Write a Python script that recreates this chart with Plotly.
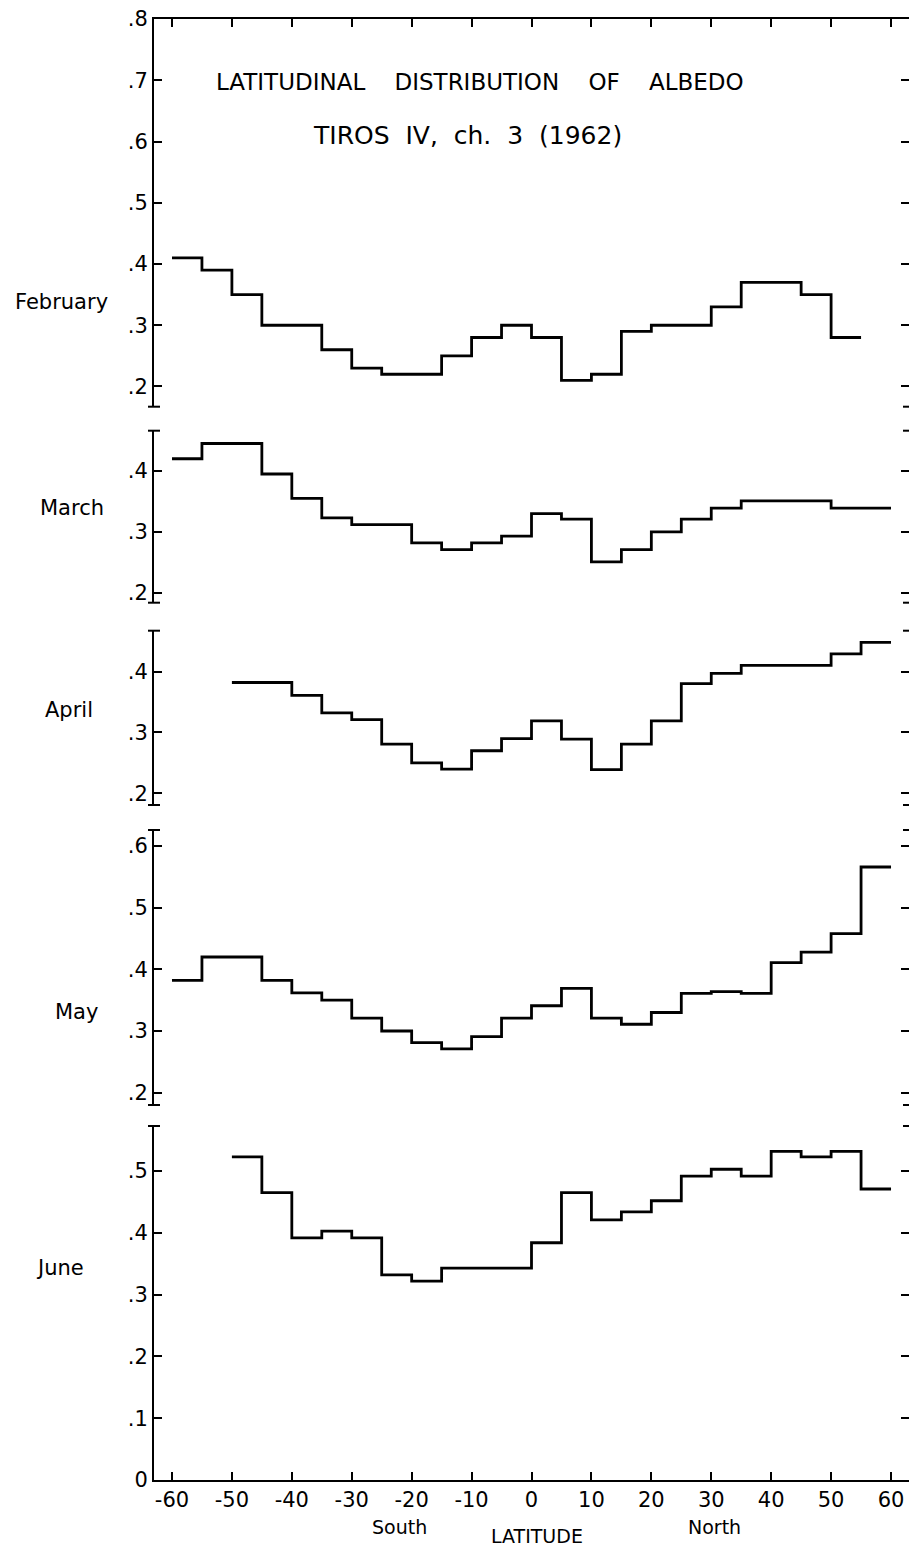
import plotly.graph_objects as go

# ---- data -------------------------------------------------------------
lat_edges = list(range(-60, 65, 5))          # 25 edges, 24 bins of 5 deg
months = ["February", "March", "April", "May", "June"]

feb = [0.41, 0.39, 0.35, 0.30, 0.30, 0.26, 0.23, 0.22, 0.22, 0.25, 0.28, 0.30,
       0.28, 0.21, 0.22, 0.29, 0.30, 0.30, 0.33, 0.37, 0.37, 0.35, 0.28, None]
mar = [0.42, 0.445, 0.445, 0.395, 0.355, 0.323, 0.312, 0.312, 0.282, 0.271, 0.282, 0.293,
       0.330, 0.321, 0.251, 0.271, 0.300, 0.321, 0.339, 0.351, 0.351, 0.351, 0.339, 0.339]
apr = [None, None, 0.382, 0.382, 0.361, 0.332, 0.321, 0.281, 0.250, 0.240, 0.270, 0.290,
       0.319, 0.289, 0.239, 0.281, 0.319, 0.380, 0.397, 0.410, 0.410, 0.410, 0.429, 0.448]
may = [0.382, 0.420, 0.420, 0.382, 0.362, 0.350, 0.321, 0.300, 0.281, 0.271, 0.291, 0.321,
       0.341, 0.369, 0.321, 0.311, 0.330, 0.361, 0.364, 0.361, 0.411, 0.428, 0.458, 0.566]
jun = [None, None, 0.523, 0.465, 0.392, 0.403, 0.392, 0.332, 0.322, 0.343, 0.343, 0.343,
       0.384, 0.465, 0.421, 0.434, 0.452, 0.492, 0.503, 0.492, 0.532, 0.523, 0.532, 0.471]
series = [feb, mar, apr, may, jun]

x_tickvals = list(range(-60, 70, 10))
x_ticktext = ["-60", "-50", "-40", "-30", "-20", "-10", "0", "10", "20", "30", "40", "50", "60"]

y_tickvals = [
    [0.2, 0.3, 0.4, 0.5, 0.6, 0.7, 0.8],
    [0.2, 0.3, 0.4],
    [0.2, 0.3, 0.4],
    [0.2, 0.3, 0.4, 0.5, 0.6],
    [0.0, 0.1, 0.2, 0.3, 0.4, 0.5],
]
y_ticktext = [
    [".2", ".3", ".4", ".5", ".6", ".7", ".8"],
    [".2", ".3", ".4"],
    [".2", ".3", ".4"],
    [".2", ".3", ".4", ".5", ".6"],
    ["0", ".1", ".2", ".3", ".4", ".5"],
]
y_ranges = [[0.167, 0.8], [0.184, 0.466], [0.181, 0.467], [0.180, 0.626], [0.0, 0.573]]

# ---- layout geometry (page pixels; the page body adds an 8px margin) ---
OFF = 8
W, H = 917 - OFF, 1550 - OFF
ML, MR, MT, MB = 154 - OFF, 8, 19 - OFF, 70
PH = H - MT - MB
PW = W - ML - MR
panel_px = [(19, 406.7), (430.7, 602.7), (630.7, 805), (830, 1105), (1126, 1480)]


def frac(ypx):
    return (1480 - ypx) / PH


def xfrac(xpx):
    return (xpx - 154) / PW


domains = [[frac(b), frac(t)] for (t, b) in panel_px]
label_y = [302, 508, 710, 1012, 1268]
label_x = [61, 72, 69, 76, 60]

FONT = "DejaVu Sans"
fig = go.Figure()

xnames = ["x2", "x3", "x4", "x5", "x"]
ynames = ["y", "y2", "y3", "y4", "y5"]

for i, vals in enumerate(series):
    xs, ys = [], []
    for j, v in enumerate(vals):
        if v is not None:
            xs.append(lat_edges[j]); ys.append(v)
            nxt = vals[j + 1] if j + 1 < len(vals) else None
            if nxt is None:
                xs.append(lat_edges[j + 1]); ys.append(v)
                xs.append(None); ys.append(None)
    fig.add_trace(go.Scatter(
        x=xs, y=ys, mode="lines", line=dict(color="black", width=2.8, shape="hv"),
        xaxis=xnames[i], yaxis=ynames[i], showlegend=False, connectgaps=False,
    ))

axis_common = dict(showgrid=False, zeroline=False, showline=True, linecolor="black",
                   linewidth=2, ticks="inside", tickcolor="black", tickwidth=2, ticklen=8,
                   automargin=False, ticklabeloverflow="allow")

layout = dict(
    template="none",
    width=W, height=H, margin=dict(l=ML, r=MR, t=MT, b=MB, pad=0, autoexpand=False),
    paper_bgcolor="white", plot_bgcolor="white",
    font=dict(family=FONT, color="black", size=19),
)

# bottom x axis (June panel)
layout["xaxis"] = dict(axis_common, range=[-63, 63], anchor="y5", side="bottom",
                       tickvals=x_tickvals, ticktext=x_ticktext,
                       tickfont=dict(size=21, family=FONT), domain=[0, 1])
# top x axis (February panel)
layout["xaxis2"] = dict(axis_common, matches="x", anchor="y", side="top",
                        tickvals=x_tickvals, showticklabels=False, domain=[0, 1])
for k in (3, 4, 5):
    layout[f"xaxis{k}"] = dict(matches="x", anchor=f"y{k-1}", visible=False, domain=[0, 1],
                               automargin=False)

for i in range(5):
    key = "yaxis" if i == 0 else f"yaxis{i+1}"
    layout[key] = dict(axis_common, range=y_ranges[i], domain=domains[i],
                       anchor=xnames[i], mirror="ticks",
                       tickvals=y_tickvals[i], ticktext=y_ticktext[i],
                       tickfont=dict(size=21, family=FONT))

fig.update_layout(**layout)

# month labels
for i, m in enumerate(months):
    fig.add_annotation(text=m, xref="paper", yref="paper",
                       x=xfrac(label_x[i]), y=frac(label_y[i]),
                       xanchor="center", yanchor="middle", showarrow=False,
                       font=dict(size=21, family=FONT))

# titles
sp = "\u00a0" * 4
fig.add_annotation(text=f"LATITUDINAL{sp}DISTRIBUTION{sp}OF{sp}ALBEDO", xref="paper", yref="paper",
                   x=xfrac(480), y=frac(82), xanchor="center", yanchor="middle",
                   showarrow=False, font=dict(size=23, family=FONT))
sp2 = "\u00a0" * 2
fig.add_annotation(text=f"TIROS{sp2}IV,{sp2}ch.{sp2}3{sp2}(1962)", xref="paper", yref="paper",
                   x=xfrac(467), y=frac(135), xanchor="center", yanchor="middle",
                   showarrow=False, font=dict(size=25, family=FONT))

# axis captions
fig.add_annotation(text="South", xref="paper", yref="paper", x=xfrac(399), y=frac(1527),
                   xanchor="center", yanchor="middle", showarrow=False,
                   font=dict(size=19, family=FONT))
fig.add_annotation(text="North", xref="paper", yref="paper", x=xfrac(714), y=frac(1527),
                   xanchor="center", yanchor="middle", showarrow=False,
                   font=dict(size=19, family=FONT))
fig.add_annotation(text="LATITUDE", xref="paper", yref="paper", x=xfrac(537), y=frac(1549),
                   xanchor="center", yanchor="bottom", showarrow=False,
                   font=dict(size=19, family=FONT))

# break marks at panel ends on the vertical axes
cap = 6 / PW
for i, (t, b) in enumerate(panel_px):
    ends = []
    if i > 0:
        ends.append(t)
    if i < 4:
        ends.append(b)
    for ypx in ends:
        for xp in (0.0, 1.0):
            fig.add_shape(type="line", xref="paper", yref="paper",
                          x0=xp - cap, x1=xp + cap, y0=frac(ypx), y1=frac(ypx),
                          line=dict(color="black", width=2))

fig.write_html("out.html")
